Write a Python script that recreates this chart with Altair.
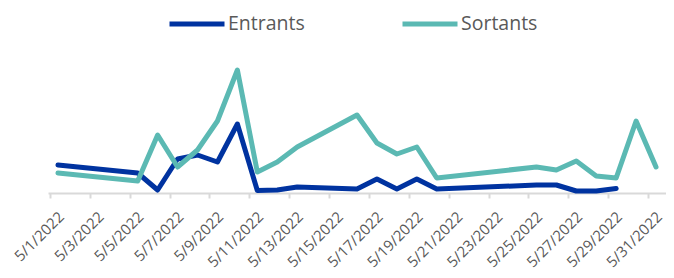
import altair as alt
import pandas as pd

entrants_dates = ["5/1/2022", "5/5/2022", "5/6/2022", "5/7/2022", "5/8/2022", "5/9/2022",
                  "5/10/2022", "5/11/2022", "5/12/2022", "5/13/2022", "5/16/2022", "5/17/2022",
                  "5/18/2022", "5/19/2022", "5/20/2022", "5/25/2022", "5/26/2022", "5/27/2022",
                  "5/28/2022", "5/29/2022"]
entrants_values = [28, 20, 3, 34, 38, 31, 69, 2.5, 3, 6, 4, 14, 4, 14, 4, 8, 8, 2, 2, 4.5]

sortants_dates = ["5/1/2022", "5/5/2022", "5/6/2022", "5/7/2022", "5/8/2022", "5/9/2022",
                  "5/10/2022", "5/11/2022", "5/12/2022", "5/13/2022", "5/16/2022", "5/17/2022",
                  "5/18/2022", "5/19/2022", "5/20/2022", "5/25/2022", "5/26/2022", "5/27/2022",
                  "5/28/2022", "5/29/2022", "5/30/2022", "5/31/2022"]
sortants_values = [20, 12, 58, 26, 43, 72, 123, 21, 31, 46, 78, 50, 39, 46, 15, 26, 23, 32,
                   17, 15, 72, 26]

series_names = ["Entrants", "Sortants"]
series_colors = ["#0033A0", "#5BB9B3"]
tick_days = list(range(1, 32, 2))

rows = []
for name, dates, vals in [(series_names[0], entrants_dates, entrants_values),
                          (series_names[1], sortants_dates, sortants_values)]:
    for d, v in zip(dates, vals):
        rows.append({"serie": name, "date": d, "day": int(d.split("/")[1]), "value": v})
df = pd.DataFrame(rows)

chart = alt.Chart(df).mark_line(strokeWidth=5, strokeCap="round", strokeJoin="round").encode(
    x=alt.X("day:Q",
            scale=alt.Scale(domain=[0.5, 31.5], nice=False, zero=False),
            axis=alt.Axis(values=tick_days, title=None, grid=False,
                          labelExpr="'5/' + datum.value + '/2022'",
                          labelAngle=-45, labelAlign="right", labelBaseline="top",
                          labelFont="Open Sans", labelFontSize=15, labelColor="#595959",
                          labelPadding=11, labelOverlap=False, labelFlush=False,
                          labelOffset=6,
                          domainColor="#D9D9D9", domainWidth=2,
                          tickColor="#D9D9D9", tickWidth=2, tickSize=5, tickOffset=-8)),
    y=alt.Y("value:Q", scale=alt.Scale(domain=[0, 150], nice=False), axis=None),
    color=alt.Color("serie:N",
                    scale=alt.Scale(domain=series_names, range=series_colors),
                    legend=alt.Legend(title=None, orient="none", direction="horizontal",
                                      legendX=119, legendY=-49,
                                      symbolType="stroke", symbolSize=3025,
                                      symbolStrokeWidth=5, labelFont="Open Sans",
                                      labelFontSize=19.5, labelColor="#595959",
                                      labelOffset=1, columnPadding=87)),
    detail="serie:N",
).properties(
    width=618, height=150,
    autosize=alt.AutoSizeParams(type="none"),
    padding={"left": 40, "top": 35, "right": 0, "bottom": 85},
).configure_view(stroke=None)

chart.save("out.html", embed_options={"renderer": "svg", "actions": False})
